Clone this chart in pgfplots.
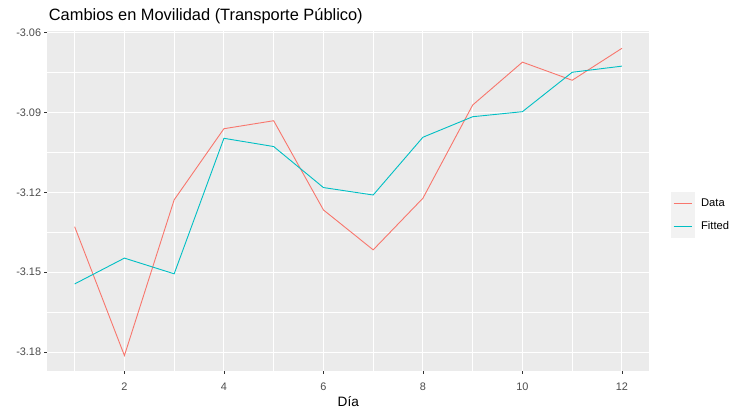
\documentclass[border=0pt]{standalone}
\usepackage{pgfplots}
\pgfplotsset{compat=1.18}
\usepackage{fontspec}
\setmainfont{Liberation Sans}
\definecolor{ggred}{HTML}{F8766D}
\definecolor{ggcyan}{HTML}{00BFC4}
\definecolor{panel}{HTML}{EBEBEB}
\definecolor{keybg}{HTML}{F2F2F2}
\definecolor{ticklab}{HTML}{4D4D4D}
\definecolor{tickcol}{HTML}{333333}
\begin{document}
\begin{tikzpicture}
\useasboundingbox[fill=white] (0,0) rectangle (732bp,412bp);
\begin{axis}[
  at={(47.3bp,41bp)}, anchor=south west,
  scale only axis, width=602bp, height=340bp,
  xmin=0.45, xmax=12.55, ymin=-3.1871, ymax=-3.0594,
  axis background/.style={fill=panel},
  axis line style={draw=none},
  /pgf/number format/assume math mode=true,
  /pgf/number format/.cd, fixed, fixed zerofill, precision=2, /pgfplots/.cd,
  xtick={2,4,6,8,10,12},
  xticklabel={\pgfmathprintnumber[precision=0]{\tick}},
  minor xtick={1,3,5,7,9,11},
  ytick={-3.18,-3.15,-3.12,-3.09,-3.06},
  minor ytick={-3.165,-3.135,-3.105,-3.075},
  grid=both,
  major grid style={white, line width=1.1bp},
  minor grid style={white, line width=0.55bp},
  tick align=outside, major tick length=3bp, minor tick length=0pt,
  xtick pos=left, ytick pos=left,
  tick style={tickcol, line width=0.55bp},
  xticklabel style={font=\fontsize{10.9bp}{12bp}\selectfont, text=ticklab, inner sep=0pt, anchor=north, yshift=-9bp},
  yticklabel style={font=\fontsize{10.9bp}{12bp}\selectfont, text=ticklab, inner sep=0pt, anchor=east, xshift=-3bp},
  title={Cambios en Movilidad (Transporte Público)},
  title style={at={(axis description cs:0,1)}, anchor=base west, inner sep=0pt, xshift=1.4bp, yshift=4.6bp, font=\fontsize{16.4bp}{19bp}\selectfont},
  xlabel={Día},
  xlabel style={at={(axis description cs:0.5,0)}, anchor=base, inner sep=0pt, yshift=-35bp, font=\fontsize{13.6bp}{15bp}\selectfont},
  legend style={at={(axis description cs:1,0.5)}, anchor=west, xshift=21.7bp, yshift=-14bp,
    draw=none, fill=none, inner sep=0pt, row sep=-1.1bp,
    font=\fontsize{11.2bp}{12bp}\selectfont,
    nodes={inner sep=0pt, text=black},
    /tikz/every odd column/.append style={column sep=6bp}},
  legend cell align=left,
  legend image code/.code={\fill[keybg] (0bp,-11.25bp) rectangle (23bp,11.25bp); \draw[#1] (2bp,0bp) -- (20bp,0bp);},
]
\addplot[ggred, line width=0.9bp] coordinates {
(1,-3.1329) (2,-3.1813) (3,-3.1228) (4,-3.0961) (5,-3.0931) (6,-3.1266)
(7,-3.1416) (8,-3.1222) (9,-3.0872) (10,-3.0711) (11,-3.0779) (12,-3.0659)};
\addlegendentry{Data}
\addplot[ggcyan, line width=0.9bp] coordinates {
(1,-3.1544) (2,-3.1447) (3,-3.1506) (4,-3.0997) (5,-3.1028) (6,-3.1182)
(7,-3.1210) (8,-3.0993) (9,-3.0916) (10,-3.0897) (11,-3.0749) (12,-3.0726)};
\addlegendentry{Fitted}
\end{axis}
\end{tikzpicture}
\end{document}
